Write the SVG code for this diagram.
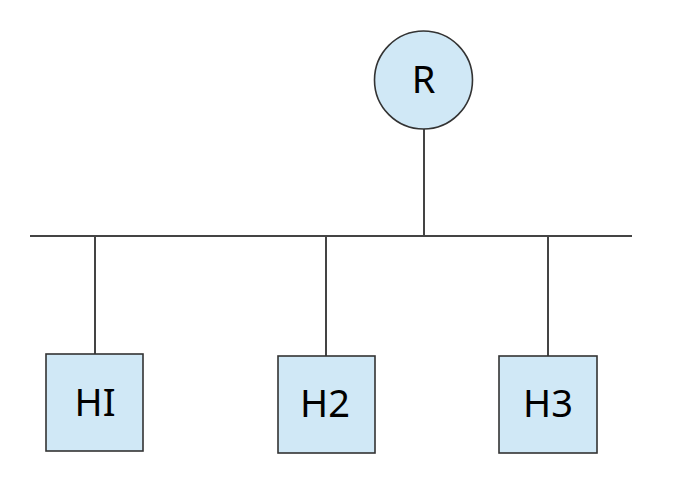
<svg xmlns="http://www.w3.org/2000/svg" width="677" height="493" viewBox="0 0 677 493">
<style>
.n{fill:#d0e8f6;stroke:#333;stroke-width:1.6}
.c line{stroke:#444;stroke-width:2}
text{font-family:"Noto Sans","Open Sans",sans-serif;font-size:38px;fill:#000;text-anchor:middle}
</style>
<rect width="677" height="493" fill="#fff"/>
<g class="c" id="connectors">
<line x1="30" y1="236" x2="632" y2="236"/>
<line x1="424" y1="129" x2="424" y2="236"/>
<line x1="95" y1="236" x2="95" y2="354"/>
<line x1="326" y1="236" x2="326" y2="356"/>
<line x1="548" y1="236" x2="548" y2="356"/>
</g>
<g id="R"><circle class="n" cx="423.5" cy="80" r="49"/><text x="423.5" y="93">R</text></g>
<g id="H1"><rect class="n" x="46" y="354" width="97" height="97"/><text x="95" y="416">HI</text></g>
<g id="H2"><rect class="n" x="278" y="356" width="97" height="97"/><text x="325" y="417">H2</text></g>
<g id="H3"><rect class="n" x="499" y="356" width="98" height="97"/><text x="548" y="417">H3</text></g>
</svg>
